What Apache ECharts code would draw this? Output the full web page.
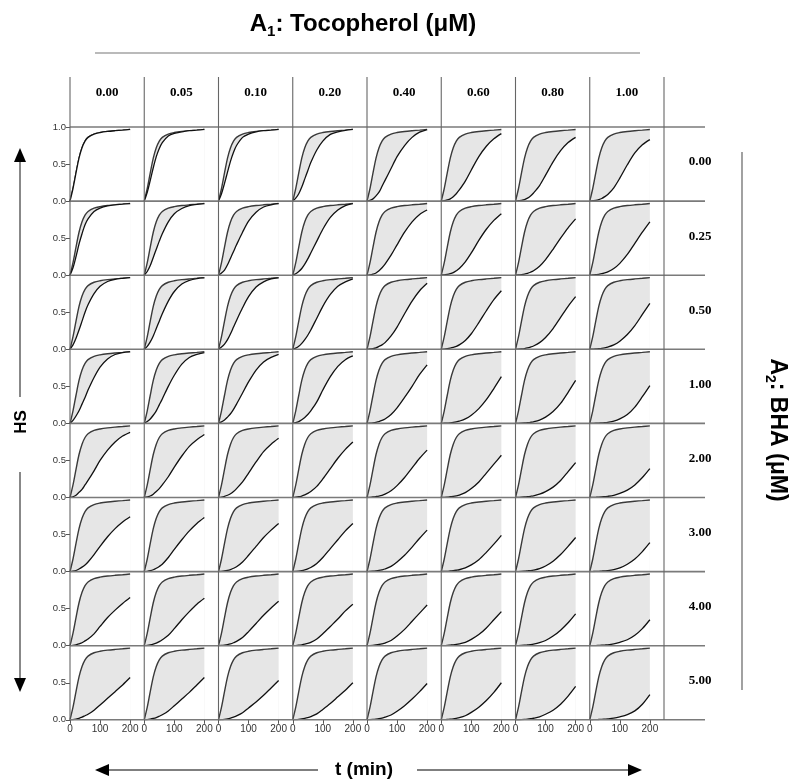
<!DOCTYPE html>
<html>
<head>
<meta charset="utf-8">
<script src="https://cdn.jsdelivr.net/npm/echarts@6/dist/echarts.min.js"></script>
<style>
  html, body { margin: 0; padding: 0; background: #fff; }
  #chart { width: 795px; height: 783px; }
</style>
</head>
<body>
<div id="chart"></div>
<script>
// column / row headers
const tocopherol = ['0.00', '0.05', '0.10', '0.20', '0.40', '0.60', '0.80', '1.00'];
const bha = ['0.00', '0.25', '0.50', '1.00', '2.00', '3.00', '4.00', '5.00'];

// sample times (min)
const T = [0, 10, 20, 30, 40, 50, 60, 80, 100, 125, 150, 175, 200];

// fast curve, same in every panel
const upperHS = [0, 0.17, 0.38, 0.58, 0.72, 0.81, 0.86, 0.905, 0.925, 0.94, 0.95, 0.958, 0.967];

// slow curve, one list per BHA row, one entry per tocopherol column
const lowerBha000 = [
    [0, 0.17, 0.38, 0.58, 0.72, 0.81, 0.86, 0.905, 0.925, 0.94, 0.95, 0.958, 0.967],
    [0, 0.12, 0.28, 0.45, 0.6, 0.71, 0.79, 0.88, 0.915, 0.935, 0.95, 0.958, 0.967],
    [0, 0.1, 0.24, 0.39, 0.54, 0.66, 0.75, 0.86, 0.905, 0.935, 0.95, 0.958, 0.967],
    [0, 0.04, 0.1, 0.19, 0.3, 0.41, 0.52, 0.69, 0.81, 0.9, 0.935, 0.955, 0.967],
    [0, 0.01, 0.03, 0.07, 0.12, 0.2, 0.28, 0.44, 0.6, 0.75, 0.86, 0.93, 0.965],
    [0, 0.005, 0.015, 0.03, 0.06, 0.1, 0.15, 0.27, 0.42, 0.6, 0.74, 0.84, 0.91],
    [0, 0.005, 0.01, 0.02, 0.04, 0.07, 0.11, 0.21, 0.35, 0.53, 0.68, 0.79, 0.86],
    [0, 0.005, 0.01, 0.02, 0.035, 0.06, 0.09, 0.18, 0.31, 0.49, 0.65, 0.76, 0.83]
];
const lowerBha025 = [
    [0, 0.1, 0.25, 0.42, 0.56, 0.68, 0.76, 0.86, 0.905, 0.935, 0.95, 0.958, 0.967],
    [0, 0.05, 0.13, 0.24, 0.35, 0.46, 0.56, 0.72, 0.83, 0.9, 0.94, 0.955, 0.967],
    [0, 0.03, 0.07, 0.14, 0.23, 0.32, 0.41, 0.58, 0.73, 0.85, 0.92, 0.95, 0.965],
    [0, 0.02, 0.05, 0.09, 0.15, 0.22, 0.3, 0.46, 0.62, 0.78, 0.88, 0.94, 0.965],
    [0, 0.005, 0.015, 0.03, 0.06, 0.1, 0.15, 0.27, 0.41, 0.58, 0.72, 0.82, 0.88],
    [0, 0.005, 0.01, 0.02, 0.035, 0.06, 0.09, 0.18, 0.3, 0.47, 0.62, 0.74, 0.83],
    [0, 0.003, 0.008, 0.015, 0.025, 0.04, 0.06, 0.12, 0.21, 0.35, 0.5, 0.64, 0.76],
    [0, 0.003, 0.006, 0.01, 0.02, 0.03, 0.045, 0.09, 0.16, 0.28, 0.43, 0.58, 0.72]
];
const lowerBha050 = [
    [0, 0.06, 0.15, 0.26, 0.38, 0.5, 0.6, 0.75, 0.85, 0.915, 0.945, 0.958, 0.967],
    [0, 0.04, 0.1, 0.18, 0.28, 0.38, 0.48, 0.65, 0.78, 0.88, 0.93, 0.955, 0.965],
    [0, 0.03, 0.07, 0.13, 0.21, 0.3, 0.39, 0.56, 0.71, 0.84, 0.91, 0.95, 0.965],
    [0, 0.015, 0.04, 0.08, 0.13, 0.19, 0.26, 0.42, 0.58, 0.74, 0.85, 0.91, 0.95],
    [0, 0.005, 0.01, 0.02, 0.04, 0.06, 0.09, 0.18, 0.3, 0.48, 0.65, 0.79, 0.89],
    [0, 0.003, 0.008, 0.015, 0.025, 0.04, 0.06, 0.12, 0.21, 0.36, 0.52, 0.67, 0.79],
    [0, 0.002, 0.005, 0.01, 0.018, 0.03, 0.045, 0.09, 0.16, 0.28, 0.43, 0.58, 0.71],
    [0, 0.002, 0.004, 0.008, 0.013, 0.02, 0.03, 0.06, 0.11, 0.2, 0.32, 0.47, 0.62]
];
const lowerBha100 = [
    [0, 0.04, 0.1, 0.17, 0.26, 0.35, 0.45, 0.62, 0.76, 0.87, 0.93, 0.955, 0.965],
    [0, 0.025, 0.06, 0.11, 0.17, 0.25, 0.33, 0.5, 0.65, 0.8, 0.89, 0.93, 0.955],
    [0, 0.02, 0.045, 0.085, 0.13, 0.19, 0.26, 0.41, 0.56, 0.72, 0.83, 0.89, 0.93],
    [0, 0.01, 0.025, 0.05, 0.08, 0.12, 0.17, 0.29, 0.45, 0.63, 0.77, 0.86, 0.91],
    [0, 0.003, 0.008, 0.015, 0.025, 0.04, 0.06, 0.12, 0.21, 0.35, 0.5, 0.66, 0.79],
    [0, 0.002, 0.004, 0.008, 0.013, 0.02, 0.03, 0.06, 0.11, 0.2, 0.32, 0.47, 0.63],
    [0, 0.001, 0.003, 0.006, 0.01, 0.015, 0.022, 0.045, 0.085, 0.16, 0.27, 0.42, 0.58],
    [0, 0.001, 0.002, 0.004, 0.007, 0.01, 0.015, 0.03, 0.06, 0.12, 0.22, 0.36, 0.51]
];
const lowerBha200 = [
    [0, 0.01, 0.03, 0.07, 0.11, 0.17, 0.23, 0.36, 0.5, 0.64, 0.75, 0.83, 0.88],
    [0, 0.008, 0.02, 0.045, 0.08, 0.12, 0.17, 0.28, 0.41, 0.56, 0.69, 0.78, 0.85],
    [0, 0.005, 0.015, 0.03, 0.05, 0.08, 0.12, 0.21, 0.33, 0.48, 0.62, 0.72, 0.8],
    [0, 0.004, 0.01, 0.02, 0.035, 0.055, 0.08, 0.15, 0.25, 0.39, 0.53, 0.65, 0.75],
    [0, 0.003, 0.007, 0.013, 0.02, 0.03, 0.045, 0.09, 0.16, 0.27, 0.4, 0.53, 0.64],
    [0, 0.002, 0.005, 0.01, 0.015, 0.022, 0.032, 0.065, 0.12, 0.21, 0.33, 0.45, 0.57],
    [0, 0.002, 0.004, 0.007, 0.011, 0.016, 0.022, 0.045, 0.08, 0.14, 0.23, 0.35, 0.47],
    [0, 0.001, 0.003, 0.005, 0.008, 0.012, 0.016, 0.03, 0.055, 0.1, 0.17, 0.27, 0.39]
];
const lowerBha300 = [
    [0, 0.005, 0.015, 0.035, 0.06, 0.09, 0.13, 0.23, 0.34, 0.47, 0.58, 0.67, 0.74],
    [0, 0.004, 0.012, 0.025, 0.045, 0.07, 0.1, 0.19, 0.3, 0.43, 0.55, 0.65, 0.73],
    [0, 0.003, 0.008, 0.016, 0.028, 0.045, 0.065, 0.13, 0.22, 0.34, 0.46, 0.56, 0.65],
    [0, 0.003, 0.007, 0.014, 0.024, 0.037, 0.055, 0.11, 0.19, 0.31, 0.43, 0.55, 0.65],
    [0, 0.002, 0.005, 0.01, 0.016, 0.024, 0.035, 0.07, 0.13, 0.22, 0.33, 0.45, 0.56],
    [0, 0.002, 0.004, 0.008, 0.012, 0.018, 0.025, 0.05, 0.09, 0.16, 0.26, 0.37, 0.49],
    [0, 0.001, 0.003, 0.006, 0.01, 0.014, 0.02, 0.04, 0.075, 0.14, 0.23, 0.34, 0.46],
    [0, 0.001, 0.002, 0.004, 0.007, 0.01, 0.014, 0.028, 0.05, 0.1, 0.17, 0.27, 0.39]
];
const lowerBha400 = [
    [0, 0.004, 0.012, 0.025, 0.04, 0.065, 0.09, 0.16, 0.26, 0.38, 0.48, 0.57, 0.65],
    [0, 0.004, 0.01, 0.02, 0.035, 0.055, 0.08, 0.14, 0.23, 0.35, 0.46, 0.56, 0.64],
    [0, 0.003, 0.008, 0.015, 0.025, 0.04, 0.058, 0.11, 0.19, 0.3, 0.41, 0.51, 0.6],
    [0, 0.002, 0.006, 0.012, 0.02, 0.03, 0.045, 0.09, 0.16, 0.26, 0.36, 0.47, 0.56],
    [0, 0.002, 0.005, 0.01, 0.016, 0.024, 0.035, 0.07, 0.13, 0.22, 0.33, 0.44, 0.55],
    [0, 0.001, 0.004, 0.008, 0.012, 0.017, 0.024, 0.045, 0.085, 0.15, 0.24, 0.35, 0.46],
    [0, 0.001, 0.003, 0.006, 0.01, 0.014, 0.02, 0.04, 0.07, 0.13, 0.21, 0.31, 0.43],
    [0, 0.001, 0.002, 0.004, 0.006, 0.009, 0.012, 0.025, 0.045, 0.08, 0.14, 0.23, 0.35]
];
const lowerBha500 = [
    [0, 0.003, 0.01, 0.02, 0.035, 0.055, 0.075, 0.13, 0.2, 0.29, 0.38, 0.47, 0.57],
    [0, 0.003, 0.009, 0.018, 0.03, 0.048, 0.068, 0.12, 0.19, 0.28, 0.37, 0.47, 0.57],
    [0, 0.002, 0.007, 0.014, 0.024, 0.037, 0.052, 0.095, 0.16, 0.24, 0.33, 0.43, 0.53],
    [0, 0.002, 0.006, 0.012, 0.02, 0.03, 0.043, 0.08, 0.14, 0.22, 0.31, 0.4, 0.5],
    [0, 0.002, 0.005, 0.01, 0.016, 0.024, 0.035, 0.065, 0.115, 0.19, 0.28, 0.38, 0.49],
    [0, 0.002, 0.004, 0.008, 0.013, 0.02, 0.028, 0.055, 0.1, 0.17, 0.26, 0.37, 0.5],
    [0, 0.001, 0.003, 0.006, 0.01, 0.015, 0.021, 0.04, 0.075, 0.13, 0.21, 0.32, 0.45],
    [0, 0.001, 0.002, 0.004, 0.006, 0.009, 0.012, 0.022, 0.04, 0.07, 0.12, 0.21, 0.34]
];
const lowerHS = [lowerBha000, lowerBha025, lowerBha050, lowerBha100, lowerBha200, lowerBha300, lowerBha400, lowerBha500];

// panel layout
const GX = 70, GY = 127, CW = 74.25, RH = 74.1;
const ROWS = bha.length, COLS = tocopherol.length;
const GRID_BOTTOM = GY + ROWS * RH;
const LINE_COLOR = '#7a7a7a';

const chart = echarts.init(document.getElementById('chart'));

const grids = [], xAxes = [], yAxes = [], series = [];
for (let r = 0; r < ROWS; r++) {
    for (let c = 0; c < COLS; c++) {
        const i = r * COLS + c;
        const lastRow = r === ROWS - 1;
        grids.push({ left: GX + c * CW, top: GY + r * RH, width: CW, height: RH });
        xAxes.push({
            type: 'value', gridIndex: i, min: 0, max: 247,
            axisLine: { show: false },
            splitLine: { show: false },
            axisTick: { show: lastRow, length: 4, customValues: [0, 100, 200], lineStyle: { color: '#555' } },
            axisLabel: {
                show: lastRow, customValues: [0, 100, 200], margin: 4,
                fontSize: 10, color: '#333', fontFamily: 'Liberation Sans'
            }
        });
        yAxes.push({
            type: 'value', gridIndex: i, min: 0, max: 1,
            axisLine: { show: false },
            splitLine: { show: false },
            axisTick: { show: c === 0, length: 4, customValues: [0, 0.5, 1], lineStyle: { color: '#555' } },
            axisLabel: {
                show: c === 0, customValues: r === 0 ? [0, 0.5, 1] : [0, 0.5], margin: 4,
                fontSize: 9.5, color: '#333', fontFamily: 'Liberation Sans',
                formatter: v => v.toFixed(1)
            }
        });
        series.push({
            type: 'line', xAxisIndex: i, yAxisIndex: i, z: 2,
            data: T.map((t, k) => [t, upperHS[k]]),
            smooth: 0.3, symbol: 'none',
            lineStyle: { color: '#3a3a3a', width: 1.4 },
            areaStyle: { color: '#e6e6e6', opacity: 1 }
        });
        series.push({
            type: 'line', xAxisIndex: i, yAxisIndex: i, z: 3,
            data: T.map((t, k) => [t, lowerHS[r][c][k]]),
            smooth: 0.3, symbol: 'none',
            lineStyle: { color: '#111', width: 1.3 },
            areaStyle: { color: '#ffffff', opacity: 1 }
        });
    }
}

// frame lines, headers, titles, arrows
const graphic = [];
const hline = (x1, x2, y, color, w) => graphic.push({
    type: 'line', z: 100, shape: { x1, y1: y, x2, y2: y }, style: { stroke: color, lineWidth: w }
});
const vline = (x, y1, y2, color, w) => graphic.push({
    type: 'line', z: 100, shape: { x1: x, y1, x2: x, y2 }, style: { stroke: color, lineWidth: w }
});
const arrowHead = (points) => graphic.push({
    type: 'polygon', z: 100, shape: { points }, style: { fill: '#000' }
});
const label = (text, x, y, font, rotation) => graphic.push({
    type: 'text', z: 100, x, y, rotation: rotation || 0,
    style: { text, font, fill: '#000', align: 'center', verticalAlign: 'middle' }
});

for (let r = 0; r <= ROWS; r++) hline(GX, 705, GY + r * RH, LINE_COLOR, 1.6);
for (let c = 0; c <= COLS; c++) vline(GX + c * CW, 77, GRID_BOTTOM, '#666', 1.1);

tocopherol.forEach((t, c) => label(t, GX + (c + 0.5) * CW, 93, 'bold 13px "Liberation Serif"'));
bha.forEach((b, r) => label(b, 700, GY + (r + 0.5) * RH - 2, 'bold 13px "Liberation Serif"'));

// top title with subscript
graphic.push({
    type: 'text', z: 100, x: 363, y: 24,
    style: {
        text: '{m|A}{s|1}{m|: Tocopherol (μM)}',
        align: 'center', verticalAlign: 'middle',
        rich: {
            m: { font: 'bold 24px "Liberation Sans"', fill: '#000', lineHeight: 30, verticalAlign: 'middle' },
            s: { font: 'bold 15px "Liberation Sans"', fill: '#000', lineHeight: 30, verticalAlign: 'bottom' }
        }
    }
});
hline(95, 640, 53, '#777', 1.2);

// right title
graphic.push({
    type: 'text', z: 100, x: 777, y: 430, rotation: -Math.PI / 2,
    style: {
        text: '{m|A}{s|2}{m|: BHA (μM)}',
        align: 'center', verticalAlign: 'middle',
        rich: {
            m: { font: 'bold 23px "Liberation Sans"', fill: '#000', lineHeight: 28, verticalAlign: 'middle' },
            s: { font: 'bold 14px "Liberation Sans"', fill: '#000', lineHeight: 28, verticalAlign: 'bottom' }
        }
    }
});
vline(742, 152, 690, '#555', 1.1);

// left HS arrow
label('HS', 21, 422, 'bold 17px "Liberation Sans"', Math.PI / 2);
vline(20, 160, 397, '#888', 2);
arrowHead([[20, 148], [14, 162], [26, 162]]);
vline(20, 472, 680, '#888', 2);
arrowHead([[20, 692], [14, 678], [26, 678]]);

// bottom time arrow
label('t (min)', 364, 770, 'bold 19px "Liberation Sans"');
hline(108, 318, 770, '#000', 1.2);
arrowHead([[95, 770], [109, 764], [109, 776]]);
hline(417, 629, 770, '#000', 1.2);
arrowHead([[642, 770], [628, 764], [628, 776]]);

chart.setOption({
    animation: false,
    backgroundColor: '#fff',
    grid: grids,
    xAxis: xAxes,
    yAxis: yAxes,
    series: series,
    graphic: graphic
});
</script>
</body>
</html>
